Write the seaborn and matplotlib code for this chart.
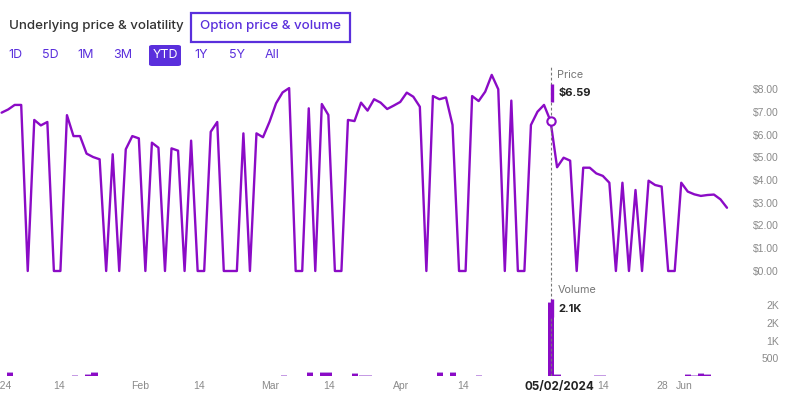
import numpy as np
import pandas as pd
import matplotlib
matplotlib.use("Agg")
import matplotlib.pyplot as plt
from matplotlib.patches import Rectangle, FancyBboxPatch
import seaborn as sns

sns.set_style("white")
plt.rcParams['font.family'] = ['Inter', 'DejaVu Sans']

# option price per trading day, 2024-01-02 .. 2024-06-11
price = [6.96, 7.10, 7.30, 7.30, 0.00, 6.64, 6.40, 6.55, 0.00, 0.00,
         6.85, 5.93, 5.93, 5.16, 5.01, 4.91, 0.00, 5.13, 0.00, 5.35,
         5.93, 5.83, 0.00, 5.64, 5.42, 0.00, 5.39, 5.29, 0.00, 5.73,
         0.00, 0.00, 6.12, 6.55, 0.00, 0.00, 0.00, 6.05, 0.00, 6.05,
         5.88, 6.56, 7.37, 7.85, 8.04, 0.00, 0.00, 7.15, 0.00, 7.34,
         6.86, 0.00, 0.00, 6.64, 6.59, 7.40, 7.05, 7.55, 7.40, 7.12,
         7.27, 7.43, 7.84, 7.66, 7.22, 0.00, 7.69, 7.55, 7.63, 6.42,
         0.00, 0.00, 7.69, 7.47, 7.88, 8.62, 7.99, 0.00, 7.49, 0.00,
         0.00, 6.42, 7.00, 7.30, 6.59, 4.56, 4.98, 4.85, 0.00, 4.54,
         4.54, 4.29, 4.18, 3.88, 0.00, 3.88, 0.00, 3.56, 0.00, 3.97,
         3.78, 3.71, 0.00, 0.00, 3.88, 3.49, 3.37, 3.30, 3.34, 3.36,
         3.15, 2.78]

# traded volume (only days with trades)
vol_days = [1, 11, 13, 14, 43, 47, 49, 50, 54, 55, 56, 67, 69, 73,
            84, 85, 91, 92, 105, 106, 107, 108]
vol_vals = [100, 30, 60, 100, 25, 120, 120, 120, 80, 25, 25, 120, 120, 25,
            2100, 65, 25, 25, 50, 25, 80, 60]

tick_pos = [-0.5, 8.5, 21, 30, 41, 50, 61, 70.5, 92, 101, 104.5]
tick_labels = ["2024", "14", "Feb", "14", "Mar", "14", "Apr", "14", "14", "28", "Jun"]

price_ticks = [0, 1, 2, 3, 4, 5, 6, 7, 8]
vol_ticks = [500, 1000, 1500, 2000]
vol_tick_labels = ["500", "1K", "2K", "2K"]

hover_day = 84
hover_date = "05/02/2024"
hover_price = "$6.59"
hover_vol = "2.1K"

tabs = ["1D", "5D", "1M", "3M", "YTD", "1Y", "5Y", "All"]
tab_x = [15.5, 50, 86, 123, 165, 201, 237, 272]

PURPLE = "#8B0BC6"
LIGHT = "#C59BE4"
VIOLET = "#5A2FDC"
GREY = "#8A8A8A"

W, H = 806, 396
fig = plt.figure(figsize=(W / 100, H / 100), dpi=100)

def fx(x):
    return x / W

def fy(y):
    return 1 - y / H

n = len(price)
days = np.arange(n)
volume = np.zeros(n)
volume[vol_days] = vol_vals
dark = np.where(volume > 40, volume - 28, 0)

x0, slope, right_px = 1.6, 6.535, 745
xlim = (-x0 / slope, (right_px - x0) / slope)

# price panel
ax_p = fig.add_axes([0, fy(280), fx(right_px), (280 - 62) / H])
sns.lineplot(x=days, y=price, ax=ax_p, color=PURPLE, linewidth=1.7)
ax_p.set_xlim(*xlim)
ax_p.set_ylim((271 - 280) / 22.75, (271 - 62) / 22.75)
ax_p.set_xticks([])
ax_p.yaxis.tick_right()
ax_p.set_yticks(price_ticks, [f"${v:.2f}" for v in price_ticks])
ax_p.tick_params(axis='y', length=0, pad=8 * 0.72, labelsize=7.5,
                 labelcolor=GREY, labelfontfamily='Liberation Sans')
ax_p.set_xlabel("")
ax_p.set_ylabel("")
for s in ax_p.spines.values():
    s.set_visible(False)

# volume panel
ax_v = fig.add_axes([0, fy(376), fx(right_px), (376 - 280) / H])
sns.barplot(x=days, y=volume, ax=ax_v, native_scale=True, width=0.95,
            color=LIGHT, linewidth=0, errorbar=None, saturation=1)
sns.barplot(x=days, y=dark, ax=ax_v, native_scale=True, width=0.95,
            color=PURPLE, linewidth=0, errorbar=None, saturation=1)
ax_v.set_xlim(*xlim)
ax_v.set_ylim(0, (376 - 280) / 0.0354)
ax_v.yaxis.tick_right()
ax_v.set_yticks(vol_ticks, vol_tick_labels)
ax_v.tick_params(axis='y', length=0, pad=34 * 0.72, labelsize=7.5,
                 labelcolor=GREY, labelfontfamily='Liberation Sans')
for lbl in ax_v.get_yticklabels():
    lbl.set_horizontalalignment('right')
ax_v.set_xticks(tick_pos, tick_labels)
ax_v.tick_params(axis='x', length=0, pad=3.5, labelsize=7.5,
                 labelcolor=GREY, labelfontfamily='Liberation Sans')
ax_v.set_xlabel("")
ax_v.set_ylabel("")
for s in ax_v.spines.values():
    s.set_visible(False)

# hover crosshair
ax_p.axvline(hover_day, ymin=0, ymax=(280 - 65) / (280 - 62), color="#777777",
             linewidth=0.8, linestyle=(0, (2.5, 2)))
ax_v.axvline(hover_day, color="#777777", linewidth=0.8, linestyle=(0, (2.5, 2)))
ax_p.plot([hover_day], [price[hover_day]], marker="o", markersize=6,
          markerfacecolor="white", markeredgecolor=PURPLE, markeredgewidth=1.5)

blend_p = ax_p.get_xaxis_transform()
ax_p.plot([hover_day + 0.15] * 2, [(280 - 102) / 218, (280 - 84) / 218],
          transform=blend_p, color=PURPLE, linewidth=2.4, solid_capstyle='butt')
blend_v = ax_v.get_xaxis_transform()
ax_v.plot([hover_day + 0.15] * 2, [(376 - 317) / 96, (376 - 299) / 96],
          transform=blend_v, color=PURPLE, linewidth=2.4, solid_capstyle='butt')

ax_p.annotate("Price", xy=(hover_day, (280 - 75.5) / 218), xycoords=blend_p,
              xytext=(5, 0), textcoords='offset points', ha='left', va='center',
              fontsize=7.8, color="#777777")
ax_p.annotate(hover_price, xy=(hover_day, (280 - 93) / 218), xycoords=blend_p,
              xytext=(5.5, 0), textcoords='offset points', ha='left', va='center',
              fontsize=8, color="#222222", fontweight='bold')
ax_v.annotate("Volume", xy=(hover_day, (376 - 290) / 96), xycoords=blend_v,
              xytext=(5, 0), textcoords='offset points', ha='left', va='center',
              fontsize=7.8, color="#777777")
ax_v.annotate(hover_vol, xy=(hover_day, (376 - 308.5) / 96), xycoords=blend_v,
              xytext=(5.5, 0), textcoords='offset points', ha='left', va='center',
              fontsize=8, color="#222222", fontweight='bold')
ax_v.annotate(hover_date, xy=(hover_day, 0), xycoords=blend_v,
              xytext=(6, -3.3), textcoords='offset points', ha='center', va='top',
              fontsize=8.4, color="#222222", fontweight='bold')

# header
fig.text(fx(9), fy(26.5), "Underlying price & volatility", ha='left', va='center',
         fontsize=9.6, color="#333333", fontweight='medium')
fig.patches.append(Rectangle((fx(191), fy(42)), fx(159), 29 / H, transform=fig.transFigure,
                             fill=False, edgecolor=VIOLET, linewidth=1.6))
fig.text(fx(270.5), fy(26.5), "Option price & volume", ha='center', va='center',
         fontsize=9.6, color=VIOLET, fontweight='medium')
fig.patches.append(FancyBboxPatch((fx(149), fy(66)), fx(32), 21 / H,
                                  boxstyle="round,pad=0,rounding_size=0.004",
                                  transform=fig.transFigure, facecolor=VIOLET,
                                  edgecolor='none'))
for label, x in zip(tabs, tab_x):
    fig.text(fx(x), fy(55.5), label, ha='center', va='center', fontsize=9,
             color="white" if label == "YTD" else VIOLET)

fig.savefig("out.png", dpi=100, facecolor="white")
